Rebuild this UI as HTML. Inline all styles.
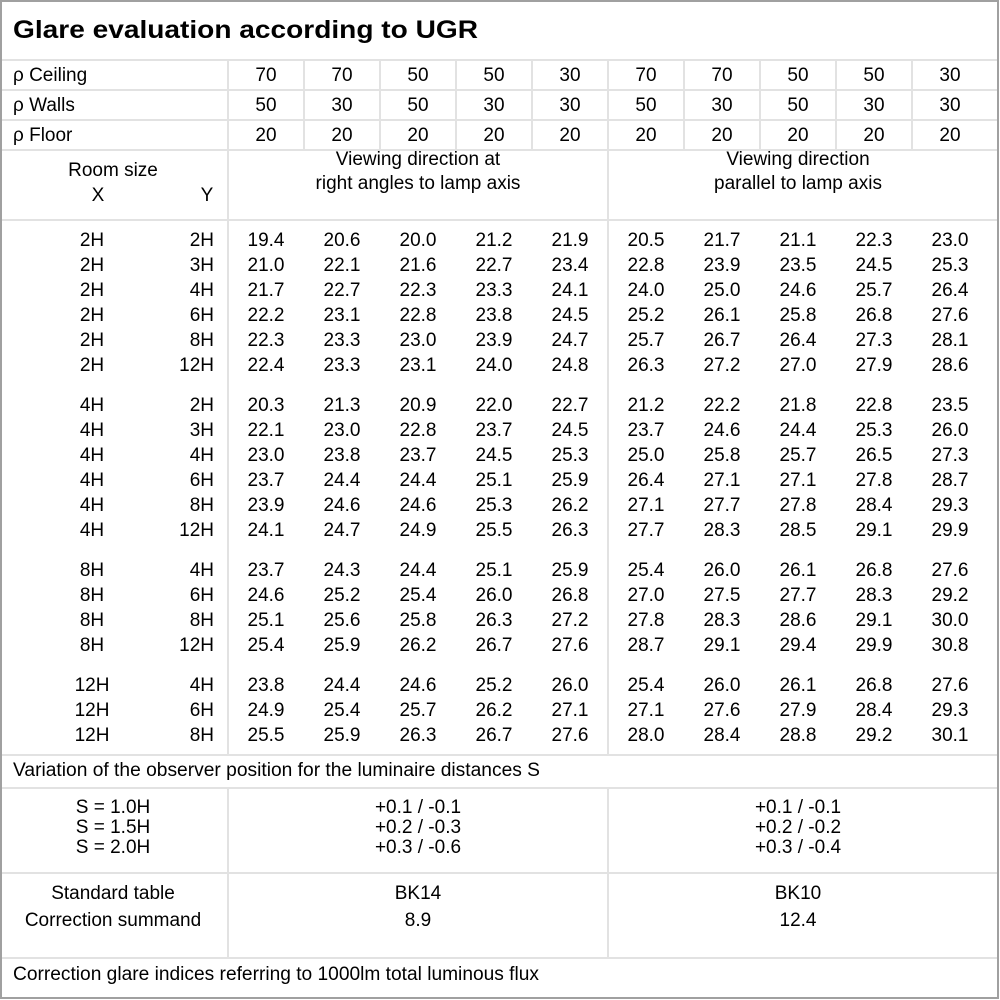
<!DOCTYPE html>
<html><head><meta charset="utf-8"><style>
html,body{margin:0;padding:0;background:#fff;}
svg{display:block;font-family:"Liberation Sans",Arial,sans-serif;}
.c{text-anchor:middle;}
.r{text-anchor:end;}
text{font-size:19px;fill:#000;}
</style></head><body>
<svg width="1000" height="1000" viewBox="0 0 1000 1000" xmlns="http://www.w3.org/2000/svg">
<rect x="0" y="0" width="1000" height="1000" fill="#fff"/>
<g stroke="#e2e2e2" stroke-width="2">
<line x1="1" y1="60" x2="998" y2="60"/>
<line x1="1" y1="90" x2="998" y2="90"/>
<line x1="1" y1="120" x2="998" y2="120"/>
<line x1="1" y1="150" x2="998" y2="150"/>
<line x1="1" y1="220" x2="998" y2="220"/>
<line x1="1" y1="755" x2="998" y2="755"/>
<line x1="1" y1="788" x2="998" y2="788"/>
<line x1="1" y1="873" x2="998" y2="873"/>
<line x1="1" y1="958" x2="998" y2="958"/>
<line x1="228" y1="60" x2="228" y2="755"/>
<line x1="228" y1="788" x2="228" y2="958"/>
<line x1="608" y1="60" x2="608" y2="755"/>
<line x1="608" y1="788" x2="608" y2="958"/>
<line x1="304" y1="60" x2="304" y2="150"/>
<line x1="380" y1="60" x2="380" y2="150"/>
<line x1="456" y1="60" x2="456" y2="150"/>
<line x1="532" y1="60" x2="532" y2="150"/>
<line x1="684" y1="60" x2="684" y2="150"/>
<line x1="760" y1="60" x2="760" y2="150"/>
<line x1="836" y1="60" x2="836" y2="150"/>
<line x1="912" y1="60" x2="912" y2="150"/>
</g>
<rect x="1" y="1" width="997" height="997" fill="none" stroke="#a0a0a0" stroke-width="2"/>
<text x="13" y="38" style="font-size:25px;font-weight:bold" textLength="465" lengthAdjust="spacingAndGlyphs">Glare evaluation according to UGR</text>
<text x="13" y="81">ρ Ceiling</text>
<text x="13" y="111">ρ Walls</text>
<text x="13" y="141">ρ Floor</text>
<g class="c">
<text x="266" y="81">70</text><text x="342" y="81">70</text><text x="418" y="81">50</text><text x="494" y="81">50</text><text x="570" y="81">30</text><text x="646" y="81">70</text><text x="722" y="81">70</text><text x="798" y="81">50</text><text x="874" y="81">50</text><text x="950" y="81">30</text>
<text x="266" y="111">50</text><text x="342" y="111">30</text><text x="418" y="111">50</text><text x="494" y="111">30</text><text x="570" y="111">30</text><text x="646" y="111">50</text><text x="722" y="111">30</text><text x="798" y="111">50</text><text x="874" y="111">30</text><text x="950" y="111">30</text>
<text x="266" y="141">20</text><text x="342" y="141">20</text><text x="418" y="141">20</text><text x="494" y="141">20</text><text x="570" y="141">20</text><text x="646" y="141">20</text><text x="722" y="141">20</text><text x="798" y="141">20</text><text x="874" y="141">20</text><text x="950" y="141">20</text>
<text x="113" y="176">Room size</text>
<text x="98" y="201">X</text>
<text x="207" y="201">Y</text>
<text x="418" y="165">Viewing direction at</text>
<text x="418" y="189">right angles to lamp axis</text>
<text x="798" y="165">Viewing direction</text>
<text x="798" y="189">parallel to lamp axis</text>
</g>
<g id="rows">
<g transform="translate(0,246)"><text class="c" x="92">2H</text><text class="r" x="214">2H</text><text class="c" x="266">19.4</text><text class="c" x="342">20.6</text><text class="c" x="418">20.0</text><text class="c" x="494">21.2</text><text class="c" x="570">21.9</text><text class="c" x="646">20.5</text><text class="c" x="722">21.7</text><text class="c" x="798">21.1</text><text class="c" x="874">22.3</text><text class="c" x="950">23.0</text></g>
<g transform="translate(0,271)"><text class="c" x="92">2H</text><text class="r" x="214">3H</text><text class="c" x="266">21.0</text><text class="c" x="342">22.1</text><text class="c" x="418">21.6</text><text class="c" x="494">22.7</text><text class="c" x="570">23.4</text><text class="c" x="646">22.8</text><text class="c" x="722">23.9</text><text class="c" x="798">23.5</text><text class="c" x="874">24.5</text><text class="c" x="950">25.3</text></g>
<g transform="translate(0,296)"><text class="c" x="92">2H</text><text class="r" x="214">4H</text><text class="c" x="266">21.7</text><text class="c" x="342">22.7</text><text class="c" x="418">22.3</text><text class="c" x="494">23.3</text><text class="c" x="570">24.1</text><text class="c" x="646">24.0</text><text class="c" x="722">25.0</text><text class="c" x="798">24.6</text><text class="c" x="874">25.7</text><text class="c" x="950">26.4</text></g>
<g transform="translate(0,321)"><text class="c" x="92">2H</text><text class="r" x="214">6H</text><text class="c" x="266">22.2</text><text class="c" x="342">23.1</text><text class="c" x="418">22.8</text><text class="c" x="494">23.8</text><text class="c" x="570">24.5</text><text class="c" x="646">25.2</text><text class="c" x="722">26.1</text><text class="c" x="798">25.8</text><text class="c" x="874">26.8</text><text class="c" x="950">27.6</text></g>
<g transform="translate(0,346)"><text class="c" x="92">2H</text><text class="r" x="214">8H</text><text class="c" x="266">22.3</text><text class="c" x="342">23.3</text><text class="c" x="418">23.0</text><text class="c" x="494">23.9</text><text class="c" x="570">24.7</text><text class="c" x="646">25.7</text><text class="c" x="722">26.7</text><text class="c" x="798">26.4</text><text class="c" x="874">27.3</text><text class="c" x="950">28.1</text></g>
<g transform="translate(0,371)"><text class="c" x="92">2H</text><text class="r" x="214">12H</text><text class="c" x="266">22.4</text><text class="c" x="342">23.3</text><text class="c" x="418">23.1</text><text class="c" x="494">24.0</text><text class="c" x="570">24.8</text><text class="c" x="646">26.3</text><text class="c" x="722">27.2</text><text class="c" x="798">27.0</text><text class="c" x="874">27.9</text><text class="c" x="950">28.6</text></g>
<g transform="translate(0,411)"><text class="c" x="92">4H</text><text class="r" x="214">2H</text><text class="c" x="266">20.3</text><text class="c" x="342">21.3</text><text class="c" x="418">20.9</text><text class="c" x="494">22.0</text><text class="c" x="570">22.7</text><text class="c" x="646">21.2</text><text class="c" x="722">22.2</text><text class="c" x="798">21.8</text><text class="c" x="874">22.8</text><text class="c" x="950">23.5</text></g>
<g transform="translate(0,436)"><text class="c" x="92">4H</text><text class="r" x="214">3H</text><text class="c" x="266">22.1</text><text class="c" x="342">23.0</text><text class="c" x="418">22.8</text><text class="c" x="494">23.7</text><text class="c" x="570">24.5</text><text class="c" x="646">23.7</text><text class="c" x="722">24.6</text><text class="c" x="798">24.4</text><text class="c" x="874">25.3</text><text class="c" x="950">26.0</text></g>
<g transform="translate(0,461)"><text class="c" x="92">4H</text><text class="r" x="214">4H</text><text class="c" x="266">23.0</text><text class="c" x="342">23.8</text><text class="c" x="418">23.7</text><text class="c" x="494">24.5</text><text class="c" x="570">25.3</text><text class="c" x="646">25.0</text><text class="c" x="722">25.8</text><text class="c" x="798">25.7</text><text class="c" x="874">26.5</text><text class="c" x="950">27.3</text></g>
<g transform="translate(0,486)"><text class="c" x="92">4H</text><text class="r" x="214">6H</text><text class="c" x="266">23.7</text><text class="c" x="342">24.4</text><text class="c" x="418">24.4</text><text class="c" x="494">25.1</text><text class="c" x="570">25.9</text><text class="c" x="646">26.4</text><text class="c" x="722">27.1</text><text class="c" x="798">27.1</text><text class="c" x="874">27.8</text><text class="c" x="950">28.7</text></g>
<g transform="translate(0,511)"><text class="c" x="92">4H</text><text class="r" x="214">8H</text><text class="c" x="266">23.9</text><text class="c" x="342">24.6</text><text class="c" x="418">24.6</text><text class="c" x="494">25.3</text><text class="c" x="570">26.2</text><text class="c" x="646">27.1</text><text class="c" x="722">27.7</text><text class="c" x="798">27.8</text><text class="c" x="874">28.4</text><text class="c" x="950">29.3</text></g>
<g transform="translate(0,536)"><text class="c" x="92">4H</text><text class="r" x="214">12H</text><text class="c" x="266">24.1</text><text class="c" x="342">24.7</text><text class="c" x="418">24.9</text><text class="c" x="494">25.5</text><text class="c" x="570">26.3</text><text class="c" x="646">27.7</text><text class="c" x="722">28.3</text><text class="c" x="798">28.5</text><text class="c" x="874">29.1</text><text class="c" x="950">29.9</text></g>
<g transform="translate(0,576)"><text class="c" x="92">8H</text><text class="r" x="214">4H</text><text class="c" x="266">23.7</text><text class="c" x="342">24.3</text><text class="c" x="418">24.4</text><text class="c" x="494">25.1</text><text class="c" x="570">25.9</text><text class="c" x="646">25.4</text><text class="c" x="722">26.0</text><text class="c" x="798">26.1</text><text class="c" x="874">26.8</text><text class="c" x="950">27.6</text></g>
<g transform="translate(0,601)"><text class="c" x="92">8H</text><text class="r" x="214">6H</text><text class="c" x="266">24.6</text><text class="c" x="342">25.2</text><text class="c" x="418">25.4</text><text class="c" x="494">26.0</text><text class="c" x="570">26.8</text><text class="c" x="646">27.0</text><text class="c" x="722">27.5</text><text class="c" x="798">27.7</text><text class="c" x="874">28.3</text><text class="c" x="950">29.2</text></g>
<g transform="translate(0,626)"><text class="c" x="92">8H</text><text class="r" x="214">8H</text><text class="c" x="266">25.1</text><text class="c" x="342">25.6</text><text class="c" x="418">25.8</text><text class="c" x="494">26.3</text><text class="c" x="570">27.2</text><text class="c" x="646">27.8</text><text class="c" x="722">28.3</text><text class="c" x="798">28.6</text><text class="c" x="874">29.1</text><text class="c" x="950">30.0</text></g>
<g transform="translate(0,651)"><text class="c" x="92">8H</text><text class="r" x="214">12H</text><text class="c" x="266">25.4</text><text class="c" x="342">25.9</text><text class="c" x="418">26.2</text><text class="c" x="494">26.7</text><text class="c" x="570">27.6</text><text class="c" x="646">28.7</text><text class="c" x="722">29.1</text><text class="c" x="798">29.4</text><text class="c" x="874">29.9</text><text class="c" x="950">30.8</text></g>
<g transform="translate(0,691)"><text class="c" x="92">12H</text><text class="r" x="214">4H</text><text class="c" x="266">23.8</text><text class="c" x="342">24.4</text><text class="c" x="418">24.6</text><text class="c" x="494">25.2</text><text class="c" x="570">26.0</text><text class="c" x="646">25.4</text><text class="c" x="722">26.0</text><text class="c" x="798">26.1</text><text class="c" x="874">26.8</text><text class="c" x="950">27.6</text></g>
<g transform="translate(0,716)"><text class="c" x="92">12H</text><text class="r" x="214">6H</text><text class="c" x="266">24.9</text><text class="c" x="342">25.4</text><text class="c" x="418">25.7</text><text class="c" x="494">26.2</text><text class="c" x="570">27.1</text><text class="c" x="646">27.1</text><text class="c" x="722">27.6</text><text class="c" x="798">27.9</text><text class="c" x="874">28.4</text><text class="c" x="950">29.3</text></g>
<g transform="translate(0,741)"><text class="c" x="92">12H</text><text class="r" x="214">8H</text><text class="c" x="266">25.5</text><text class="c" x="342">25.9</text><text class="c" x="418">26.3</text><text class="c" x="494">26.7</text><text class="c" x="570">27.6</text><text class="c" x="646">28.0</text><text class="c" x="722">28.4</text><text class="c" x="798">28.8</text><text class="c" x="874">29.2</text><text class="c" x="950">30.1</text></g>
</g>
<text x="13" y="776" textLength="527" lengthAdjust="spacingAndGlyphs">Variation of the observer position for the luminaire distances S</text>
<g class="c">
<text x="113" y="813">S = 1.0H</text>
<text x="113" y="833">S = 1.5H</text>
<text x="113" y="853">S = 2.0H</text>
<text x="418" y="813">+0.1 / -0.1</text>
<text x="418" y="833">+0.2 / -0.3</text>
<text x="418" y="853">+0.3 / -0.6</text>
<text x="798" y="813">+0.1 / -0.1</text>
<text x="798" y="833">+0.2 / -0.2</text>
<text x="798" y="853">+0.3 / -0.4</text>
<text x="113" y="899">Standard table</text>
<text x="113" y="926">Correction summand</text>
<text x="418" y="899">BK14</text>
<text x="418" y="926">8.9</text>
<text x="798" y="899">BK10</text>
<text x="798" y="926">12.4</text>
</g>
<text x="13" y="980" textLength="526" lengthAdjust="spacingAndGlyphs">Correction glare indices referring to 1000lm total luminous flux</text>
</svg>
</body></html>
